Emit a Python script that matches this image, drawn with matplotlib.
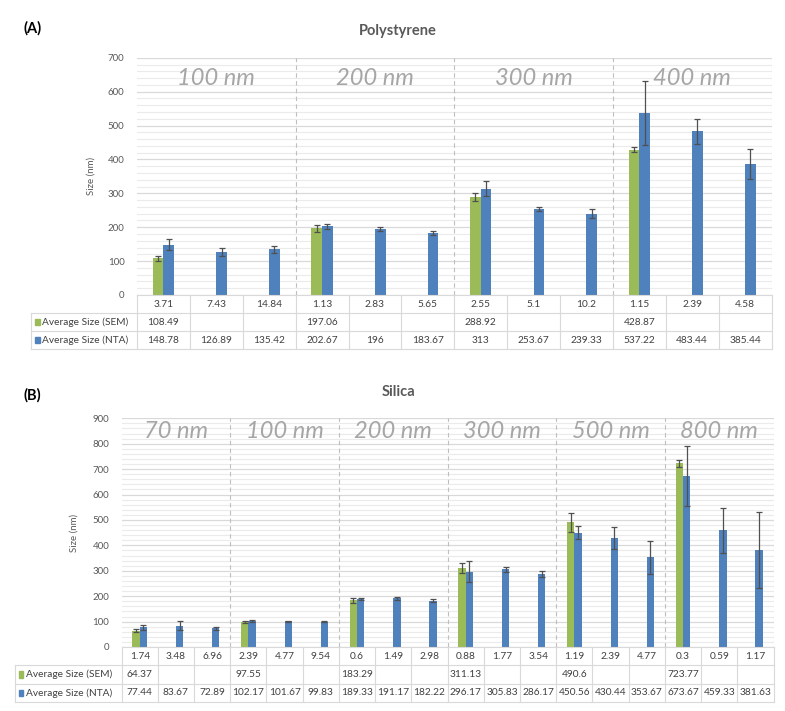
import matplotlib
matplotlib.use("Agg")
import matplotlib.pyplot as plt
import numpy as np

plt.rcParams['font.family'] = ['Lato', 'DejaVu Sans']

GREEN = '#9BBB59'
BLUE = '#4F81BD'
GRID = '#d9d9d9'
MINOR = '#ebebeb'
TXT = '#595959'
GROUPTXT = '#a6a6a6'

# ---------------- (A) Polystyrene ----------------
ps_groups = ["100 nm", "200 nm", "300 nm", "400 nm"]
ps_conc = ["3.71", "7.43", "14.84", "1.13", "2.83", "5.65", "2.55", "5.1", "10.2", "1.15", "2.39", "4.58"]
ps_sem = [108.49, None, None, 197.06, None, None, 288.92, None, None, 428.87, None, None]
ps_sem_err = [7, None, None, 10, None, None, 11, None, None, 7, None, None]
ps_nta = [148.78, 126.89, 135.42, 202.67, 196, 183.67, 313, 253.67, 239.33, 537.22, 483.44, 385.44]
ps_nta_err = [17, 11, 10.5, 7.5, 6, 6, 22, 6, 13, 94, 37, 44]

# ---------------- (B) Silica ----------------
si_groups = ["70 nm", "100 nm", "200 nm", "300 nm", "500 nm", "800 nm"]
si_conc = ["1.74", "3.48", "6.96", "2.39", "4.77", "9.54", "0.6", "1.49", "2.98",
           "0.88", "1.77", "3.54", "1.19", "2.39", "4.77", "0.3", "0.59", "1.17"]
si_sem = [64.37, None, None, 97.55, None, None, 183.29, None, None,
          311.13, None, None, 490.6, None, None, 723.77, None, None]
si_sem_err = [5, None, None, 5, None, None, 11, None, None,
              19, None, None, 38, None, None, 14, None, None]
si_nta = [77.44, 83.67, 72.89, 102.17, 101.67, 99.83, 189.33, 191.17, 182.22,
          296.17, 305.83, 286.17, 450.56, 430.44, 353.67, 673.67, 459.33, 381.63]
si_nta_err = [9, 17, 6, 3, 2, 1.5, 2.5, 5, 5, 42, 10, 12, 26, 43, 65, 117, 88, 148]

series_labels = ["Average Size (SEM)", "Average Size (NTA)"]

W, H = 785, 711
fig = plt.figure(figsize=(W / 100, H / 100), dpi=100)


def fx(px):
    return px / W


def fy(py):
    return 1 - py / H


def fmt(v):
    if v is None:
        return ""
    s = f"{v:.2f}".rstrip('0').rstrip('.')
    return s


def panel(left_px, right_px, top_px, bottom_px, table_bottom_px, legend_left_px,
          ymax, groups, conc, sem, sem_err, nta, nta_err, title, title_y_px, letter,
          letter_y_px, ylabel_x_px, group_label_val):
    n = len(conc)
    ax = fig.add_axes([fx(left_px), fy(bottom_px), fx(right_px - left_px), (bottom_px - top_px) / H])
    ax.set_xlim(-0.5, n - 0.5)
    ax.set_ylim(0, ymax)
    ax.set_facecolor('none')
    for s in ax.spines.values():
        s.set_visible(False)
    ax.set_yticks(np.arange(0, ymax + 1, 100))
    ax.set_yticks(np.arange(0, ymax + 1, 20), minor=True)
    ax.tick_params(axis='y', which='both', length=0, labelsize=7, labelcolor=TXT, pad=9)
    ax.set_xticks([])
    ax.grid(axis='y', which='minor', color=MINOR, lw=0.8)
    ax.grid(axis='y', which='major', color=GRID, lw=0.9)
    ax.set_axisbelow(True)

    x = np.arange(n)
    sem_x = [xi - 0.1 for xi, v in zip(x, sem) if v is not None]
    sem_v = [v for v in sem if v is not None]
    sem_e = [e for e in sem_err if e is not None]
    ax.bar(sem_x, sem_v, width=0.2, color=GREEN, zorder=2)
    ax.bar(x + 0.1, nta, width=0.2, color=BLUE, zorder=2)
    ax.errorbar(sem_x, sem_v, yerr=sem_e, fmt='none', ecolor='#505050', elinewidth=0.9,
                capsize=2.5, capthick=0.9, zorder=3)
    ax.errorbar(x + 0.1, nta, yerr=nta_err, fmt='none', ecolor='#505050', elinewidth=0.9,
                capsize=2.5, capthick=0.9, zorder=3)

    # group separators and labels
    ng = len(groups)
    per = n // ng
    for g in range(1, ng):
        ax.axvline(g * per - 0.5, color='#bfbfbf', lw=0.8, ls=(0, (4, 3)), zorder=1)
    ax.axvline(n - 0.5, color='#e4e4e4', lw=0.8, zorder=1)
    for g, lab in enumerate(groups):
        ax.text(g * per + (per - 1) / 2, group_label_val, lab, ha='center', va='center',
                fontsize=17, style='italic', fontweight='normal', color=GROUPTXT)

    ax.set_ylabel("Size (nm)", fontsize=7, color=TXT)
    ax.yaxis.set_label_coords(fx(ylabel_x_px - left_px) / fx(right_px - left_px), 0.5)

    # table
    tax = fig.add_axes([fx(left_px), fy(table_bottom_px), fx(right_px - left_px),
                        (table_bottom_px - bottom_px) / H])
    tax.set_xlim(-0.5, n - 0.5)
    tax.set_ylim(3, 0)
    tax.axis('off')
    cw = (right_px - left_px) / n
    lx = -0.5 - (left_px - legend_left_px) / cw
    lc = dict(color=GRID, lw=0.8, clip_on=False)
    tax.plot([-0.5, n - 0.5], [0, 0], **lc)
    tax.plot([lx, n - 0.5], [1, 1], **lc)
    tax.plot([lx, n - 0.5], [2, 2], **lc)
    tax.plot([lx, n - 0.5], [3, 3], **lc)
    for i in range(n + 1):
        tax.plot([i - 0.5, i - 0.5], [0, 3], **lc)
    tax.plot([lx, lx], [1, 3], **lc)
    fs = 7.3
    for i in range(n):
        tax.text(i, 0.5, conc[i], ha='center', va='center', fontsize=fs, color='#404040')
        tax.text(i, 1.5, fmt(sem[i]), ha='center', va='center', fontsize=fs, color='#404040')
        tax.text(i, 2.5, fmt(nta[i]), ha='center', va='center', fontsize=fs, color='#404040')
    sq = 5 / cw
    for r, (lab, col) in enumerate(zip(series_labels, [GREEN, BLUE])):
        tax.add_patch(plt.Rectangle((lx + 3.5 / cw, 1.5 + r - 0.17), sq, 0.34, color=col,
                                    clip_on=False))
        tax.text(lx + 11 / cw, 1.5 + r, lab, ha='left', va='center', fontsize=fs,
                 color='#404040', clip_on=False)

    fig.text(fx(398), fy(title_y_px), title, ha='center', va='center', fontsize=10.5,
             fontweight='bold', color=TXT)
    fig.text(fx(24), fy(letter_y_px), letter, ha='left', va='center', fontsize=10.5,
             fontweight='bold', color='black')
    return ax


panel(137, 771.5, 57.8, 295, 349, 31, 700, ps_groups, ps_conc, ps_sem, ps_sem_err,
      ps_nta, ps_nta_err, "Polystyrene", 31, "(A)", 28, 96, 640)
panel(121.6, 773.6, 418.3, 647, 702, 15, 900, si_groups, si_conc, si_sem, si_sem_err,
      si_nta, si_nta_err, "Silica", 392, "(B)", 395, 79, 850)

fig.savefig("out.png", dpi=100)
